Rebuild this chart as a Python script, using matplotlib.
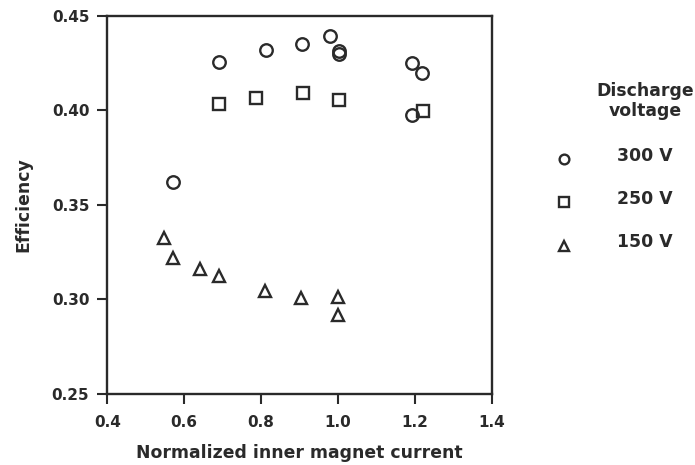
import matplotlib.pyplot as plt

# efficiency vs normalized inner magnet current, one series per discharge voltage
x_300 = [0.572, 0.691, 0.812, 0.907, 0.979, 1.002, 1.002, 1.193, 1.219, 1.193]
y_300 = [0.362, 0.4255, 0.432, 0.4353, 0.4396, 0.4313, 0.4299, 0.425, 0.4197, 0.3978]

x_250 = [0.691, 0.788, 0.908, 1.003, 1.220]
y_250 = [0.4036, 0.4068, 0.4094, 0.4057, 0.3999]

x_150 = [0.548, 0.572, 0.641, 0.691, 0.809, 0.905, 1.001, 1.000]
y_150 = [0.3324, 0.322, 0.3163, 0.3123, 0.3047, 0.3010, 0.3015, 0.2920]

legend_labels = ["300 V", "250 V", "150 V"]

ink = '#2a2a2a'
plt.rcParams['font.family'] = ['DejaVu Sans']
plt.rcParams['font.weight'] = 'bold'
plt.rcParams['axes.labelweight'] = 'bold'

fig = plt.figure(figsize=(6.95, 4.65), dpi=100)
ax = fig.add_axes([0.1544, 0.1527, 0.5531, 0.8129])

mstyle = dict(linestyle='none', markerfacecolor='none', markeredgecolor=ink,
              markeredgewidth=1.7, markersize=9)
ax.plot(x_300, y_300, marker='o', **mstyle)
ax.plot(x_250, y_250, marker='s', **dict(mstyle, markersize=8.5))
ax.plot(x_150, y_150, marker='^', **dict(mstyle, markersize=8.5))

ax.set_xlim(0.4, 1.4)
ax.set_ylim(0.25, 0.45)
ax.set_xticks([0.4, 0.6, 0.8, 1.0, 1.2, 1.4])
ax.set_xticklabels(['0.4', '0.6', '0.8', '1.0', '1.2', '1.4'])
ax.set_yticks([0.25, 0.30, 0.35, 0.40, 0.45])
ax.set_yticklabels(['0.25', '0.30', '0.35', '0.40', '0.45'])
ax.tick_params(direction='out', length=7, width=1.5, labelsize=11, colors=ink)
ax.tick_params(axis='x', pad=8)
ax.tick_params(axis='y', pad=6)
for s in ax.spines.values():
    s.set_linewidth(1.7)
    s.set_color(ink)

ax.set_xlabel('Normalized inner magnet current', fontsize=12.4, color=ink, labelpad=10)
ax.set_ylabel('Efficiency', fontsize=12.4, color=ink, labelpad=14)

# legend drawn by hand to the right of the axes
fig.text(645 / 695, 1 - 101 / 465, 'Discharge\nvoltage', ha='center', va='center',
         fontsize=12.4, color=ink, linespacing=1.15)
markers = ['o', 's', '^']
marker_rows = [159, 202, 246]
text_rows = [156, 199, 242]
for m, lab, my, ty in zip(markers, legend_labels, marker_rows, text_rows):
    fig.add_artist(plt.Line2D([564 / 695], [1 - my / 465], marker=m, linestyle='none',
                              markerfacecolor='none', markeredgecolor=ink,
                              markeredgewidth=1.7, markersize=7,
                              transform=fig.transFigure))
    fig.text(617 / 695, 1 - ty / 465, lab, ha='left', va='center', fontsize=12.4, color=ink)

fig.savefig('out.png', dpi=100)
